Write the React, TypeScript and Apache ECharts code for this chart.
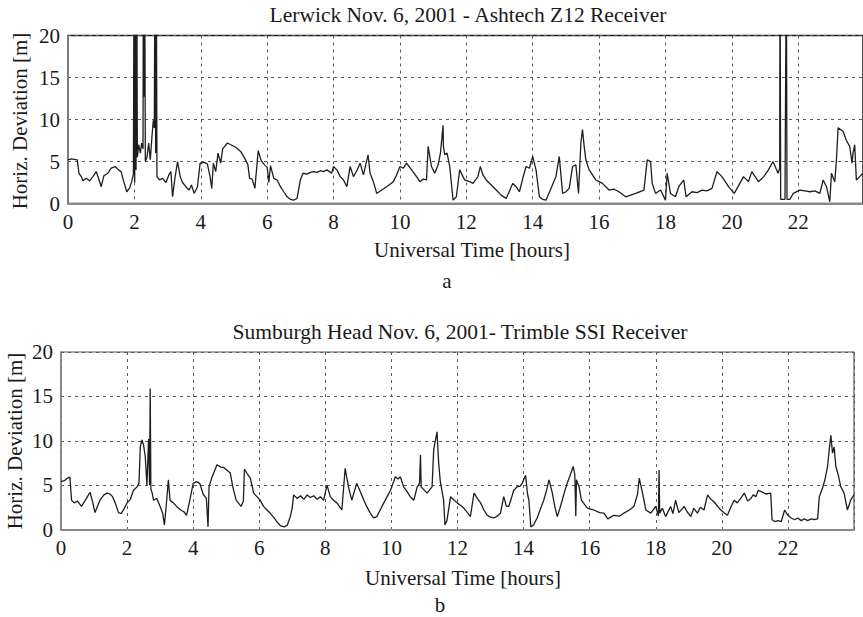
import React, { useEffect, useRef } from "react";
import * as echarts from "echarts";

// Lerwick, Ashtech Z12 receiver: [UT hours, horizontal deviation m]
const lerwick: [number, number][] = [
  [0, 5.2], [0.1, 5.3], [0.28, 5.2], [0.33, 3.6], [0.4, 3.2], [0.45, 2.7], [0.55, 3.0], [0.65, 2.7],
  [0.75, 3.2], [0.85, 3.8], [0.92, 3.0], [1.0, 2.0], [1.08, 3.3], [1.2, 3.6], [1.3, 4.2], [1.42, 4.4],
  [1.52, 4.0], [1.6, 3.8], [1.68, 2.6], [1.77, 1.4], [1.85, 1.8], [1.92, 2.6], [1.97, 3.5], [1.99, 30],
  [2.01, 2.5], [2.03, 30], [2.05, 4.0], [2.07, 30], [2.09, 5.5], [2.13, 7.0], [2.18, 6.0], [2.22, 7.2],
  [2.26, 6.5], [2.27, 30], [2.29, 12.7], [2.31, 30], [2.33, 5.0], [2.38, 5.5], [2.43, 7.2], [2.48, 5.2],
  [2.53, 8.0], [2.57, 9.9], [2.6, 9.0], [2.62, 30], [2.64, 6.0], [2.66, 30], [2.68, 3.2], [2.75, 2.8],
  [2.85, 3.0], [2.95, 2.5], [3.05, 3.5], [3.1, 3.8], [3.15, 0.8], [3.22, 3.0], [3.3, 5.0], [3.38, 3.2],
  [3.45, 2.5], [3.55, 2.0], [3.65, 1.6], [3.72, 2.2], [3.8, 1.2], [3.9, 2.0], [3.98, 4.8], [4.1, 4.9],
  [4.2, 4.7], [4.28, 3.2], [4.33, 1.8], [4.38, 4.8], [4.45, 3.8], [4.52, 6.0], [4.6, 4.8], [4.66, 6.5],
  [4.8, 7.2], [4.95, 6.9], [5.05, 6.7], [5.2, 6.2], [5.35, 5.2], [5.42, 4.6], [5.47, 3.0], [5.55, 2.9],
  [5.63, 1.8], [5.73, 6.3], [5.82, 5.1], [5.92, 4.6], [6.0, 4.3], [6.05, 2.5], [6.1, 4.5], [6.2, 3.0],
  [6.3, 2.8], [6.4, 2.0], [6.5, 1.4], [6.6, 0.8], [6.7, 0.5], [6.8, 0.4], [6.9, 0.6], [7.0, 2.8],
  [7.08, 3.6], [7.2, 3.5], [7.3, 3.7], [7.4, 3.8], [7.5, 3.7], [7.6, 3.9], [7.7, 3.8], [7.8, 4.0],
  [7.94, 3.6], [8.0, 4.4], [8.1, 4.0], [8.2, 3.2], [8.3, 2.8], [8.4, 2.0], [8.5, 4.4], [8.6, 3.2],
  [8.7, 3.9], [8.8, 4.8], [8.9, 3.4], [9.04, 5.8], [9.1, 3.6], [9.2, 2.6], [9.3, 1.2], [9.45, 1.6],
  [9.6, 2.0], [9.7, 2.3], [9.8, 2.6], [9.9, 3.4], [10.0, 4.4], [10.1, 4.2], [10.2, 4.8], [10.35, 4.0],
  [10.5, 3.2], [10.6, 2.6], [10.7, 2.9], [10.8, 2.8], [10.85, 6.8], [10.95, 4.4], [11.05, 3.6], [11.15, 4.6],
  [11.22, 6.0], [11.3, 9.3], [11.31, 6.8], [11.35, 5.8], [11.42, 6.0], [11.5, 4.4], [11.6, 0.4], [11.7, 0.8],
  [11.8, 4.0], [11.9, 3.2], [11.95, 2.8], [12.1, 2.6], [12.2, 2.4], [12.35, 3.2], [12.42, 4.4], [12.5, 3.4],
  [12.6, 2.8], [12.75, 2.2], [12.9, 1.6], [13.05, 1.0], [13.2, 0.6], [13.3, 1.5], [13.4, 2.4], [13.5, 2.0],
  [13.6, 1.4], [13.7, 3.0], [13.8, 4.4], [13.9, 4.2], [14.0, 5.6], [14.1, 4.0], [14.2, 0.8], [14.3, 0.5],
  [14.4, 0.4], [14.55, 1.8], [14.7, 3.2], [14.8, 5.6], [14.9, 1.2], [15.0, 1.4], [15.1, 1.8], [15.2, 4.4],
  [15.3, 4.6], [15.38, 1.2], [15.45, 7.2], [15.5, 8.8], [15.55, 6.8], [15.6, 5.2], [15.7, 4.0], [15.9, 2.8],
  [16.1, 2.4], [16.3, 1.6], [16.45, 1.7], [16.6, 1.4], [16.8, 0.8], [16.95, 1.0], [17.1, 1.2], [17.35, 1.6],
  [17.45, 5.2], [17.55, 5.0], [17.6, 2.4], [17.7, 1.2], [17.85, 1.6], [18.0, 0.4], [18.05, 3.6], [18.15, 1.2],
  [18.3, 0.8], [18.4, 2.0], [18.55, 2.8], [18.62, 0.8], [18.8, 1.4], [18.95, 1.3], [19.1, 1.6], [19.25, 1.5],
  [19.4, 1.8], [19.55, 3.8], [19.7, 3.2], [19.9, 2.0], [20.07, 1.2], [20.27, 2.6], [20.35, 3.2], [20.5, 2.6],
  [20.6, 3.8], [20.8, 2.6], [20.96, 3.2], [21.1, 4.0], [21.24, 5.0], [21.39, 3.6], [21.44, 4.2], [21.45, 30],
  [21.47, 0.5], [21.6, 0.5], [21.64, 30], [21.66, 0.5], [21.75, 0.5], [21.85, 1.2], [22.05, 1.6], [22.2, 1.5],
  [22.35, 1.4], [22.5, 1.5], [22.65, 1.2], [22.75, 2.8], [22.85, 2.0], [22.95, 0.2], [23.0, 3.6], [23.1, 2.6],
  [23.15, 5.2], [23.2, 9.0], [23.35, 8.6], [23.45, 7.5], [23.55, 6.8], [23.62, 4.8], [23.65, 6.0], [23.7, 7.0],
  [23.75, 2.8], [23.85, 3.2], [23.95, 3.6],
];

// Sumburgh Head, Trimble SSI receiver: [UT hours, horizontal deviation m]
const sumburgh: [number, number][] = [
  [0, 5.4], [0.1, 5.5], [0.2, 5.8], [0.27, 5.9], [0.32, 3.3], [0.4, 3.0], [0.5, 3.2], [0.62, 2.6],
  [0.72, 3.2], [0.8, 3.7], [0.88, 4.2], [0.95, 3.2], [1.03, 1.9], [1.1, 2.6], [1.18, 3.3], [1.3, 3.9],
  [1.39, 4.1], [1.48, 4.0], [1.56, 3.7], [1.64, 3.0], [1.74, 1.9], [1.82, 1.8], [1.89, 2.2], [2.0, 3.0],
  [2.1, 3.4], [2.19, 4.4], [2.3, 4.8], [2.36, 5.2], [2.4, 9.3], [2.45, 10.1], [2.5, 9.5], [2.55, 8.2],
  [2.6, 5.0], [2.65, 10.2], [2.68, 5.0], [2.7, 15.9], [2.72, 4.6], [2.76, 4.1], [2.8, 3.3], [2.9, 3.5],
  [3.0, 2.6], [3.08, 1.8], [3.13, 0.5], [3.18, 2.5], [3.25, 5.6], [3.3, 3.3], [3.4, 3.0], [3.5, 2.6],
  [3.62, 2.2], [3.72, 2.0], [3.8, 1.6], [3.9, 3.3], [4.0, 5.2], [4.1, 5.4], [4.2, 5.2], [4.3, 4.0],
  [4.4, 3.5], [4.45, 0.3], [4.48, 4.8], [4.57, 5.9], [4.72, 7.3], [4.85, 7.0], [4.92, 7.0], [5.05, 6.6],
  [5.12, 6.4], [5.2, 4.8], [5.3, 3.3], [5.45, 2.6], [5.52, 3.2], [5.55, 6.8], [5.65, 6.2], [5.73, 5.8],
  [5.83, 4.1], [5.93, 3.7], [6.03, 3.3], [6.13, 2.6], [6.23, 2.2], [6.33, 1.85], [6.45, 1.3], [6.55, 0.8],
  [6.65, 0.4], [6.75, 0.3], [6.85, 0.5], [6.94, 1.45], [7.0, 2.5], [7.04, 3.9], [7.15, 3.5], [7.25, 3.8],
  [7.35, 3.4], [7.45, 3.9], [7.55, 3.6], [7.65, 3.8], [7.75, 3.4], [7.85, 3.7], [7.95, 3.3], [8.05, 5.0],
  [8.15, 3.7], [8.25, 3.3], [8.35, 3.0], [8.5, 2.2], [8.6, 6.9], [8.7, 4.8], [8.8, 3.3], [8.95, 5.2],
  [9.1, 3.9], [9.25, 2.6], [9.36, 1.85], [9.46, 1.3], [9.56, 1.45], [9.66, 2.2], [9.77, 3.0], [9.87, 3.7],
  [9.97, 4.4], [10.12, 5.95], [10.2, 5.7], [10.27, 5.95], [10.37, 4.8], [10.47, 4.3], [10.57, 3.7], [10.68, 3.3],
  [10.78, 4.8], [10.85, 5.2], [10.88, 8.4], [10.9, 4.8], [11.08, 4.1], [11.23, 4.8], [11.28, 9.0], [11.38, 11.0],
  [11.43, 7.5], [11.48, 5.4], [11.58, 3.3], [11.62, 0.5], [11.68, 1.0], [11.79, 3.7], [11.9, 3.3], [11.99, 3.0],
  [12.1, 2.7], [12.19, 2.4], [12.3, 1.9], [12.39, 1.45], [12.5, 4.1], [12.6, 3.5], [12.7, 3.0], [12.8, 2.2],
  [12.9, 1.6], [13.0, 1.4], [13.1, 1.3], [13.2, 1.5], [13.3, 1.85], [13.4, 3.7], [13.48, 2.6], [13.55, 2.6],
  [13.62, 3.4], [13.7, 4.4], [13.8, 4.8], [13.9, 4.9], [13.96, 5.2], [14.06, 6.1], [14.12, 4.0], [14.16, 3.3],
  [14.22, 0.3], [14.3, 0.5], [14.41, 1.3], [14.51, 2.3], [14.61, 3.3], [14.7, 4.5], [14.77, 5.6], [14.87, 4.1],
  [14.95, 2.5], [15.02, 1.45], [15.1, 2.4], [15.17, 3.3], [15.25, 4.4], [15.32, 5.2], [15.4, 6.0], [15.5, 7.1],
  [15.55, 6.2], [15.58, 1.5], [15.6, 5.6], [15.68, 4.8], [15.75, 3.3], [15.85, 2.8], [15.93, 2.4], [16.03, 2.3],
  [16.13, 2.2], [16.3, 1.9], [16.43, 1.85], [16.55, 1.2], [16.73, 1.6], [16.9, 1.5], [17.04, 1.85], [17.2, 2.2],
  [17.34, 2.6], [17.45, 4.0], [17.5, 5.8], [17.6, 4.1], [17.7, 2.2], [17.85, 1.85], [18.0, 2.6], [18.08, 1.5],
  [18.1, 6.7], [18.12, 1.85], [18.2, 2.4], [18.3, 1.45], [18.45, 2.6], [18.52, 1.8], [18.6, 3.3], [18.7, 1.9],
  [18.86, 2.6], [18.95, 2.0], [19.06, 1.45], [19.15, 2.4], [19.26, 1.85], [19.35, 2.5], [19.46, 2.2], [19.57, 3.9],
  [19.67, 3.4], [19.77, 3.1], [19.87, 2.6], [19.97, 2.2], [20.07, 1.9], [20.17, 1.6], [20.27, 2.5], [20.37, 3.3],
  [20.47, 3.0], [20.57, 3.5], [20.68, 4.1], [20.78, 3.2], [20.88, 3.5], [20.95, 3.9], [21.03, 3.7], [21.1, 4.4],
  [21.18, 4.3], [21.33, 4.0], [21.48, 4.1], [21.52, 1.1], [21.6, 0.9], [21.7, 1.0], [21.8, 0.9], [21.9, 2.2],
  [22.0, 1.6], [22.1, 1.3], [22.2, 1.1], [22.3, 1.3], [22.4, 1.0], [22.5, 1.2], [22.6, 1.0], [22.7, 1.2],
  [22.8, 1.1], [22.9, 1.2], [22.95, 3.7], [23.05, 4.7], [23.12, 5.6], [23.2, 7.1], [23.25, 9.0], [23.3, 10.6],
  [23.35, 8.6], [23.4, 9.3], [23.45, 7.1], [23.52, 6.2], [23.6, 4.8], [23.7, 4.1], [23.8, 2.2], [23.9, 3.3],
  [24.0, 3.9],
];

const titleTop = "Lerwick Nov. 6, 2001 - Ashtech Z12 Receiver";
const titleBottom = "Sumburgh Head Nov. 6, 2001- Trimble SSI Receiver";
const xName = "Universal Time [hours]";
const yName = "Horiz. Deviation [m]";

const FONT = "Liberation Serif";
const TXT = "#1a1a1a";

export default function App() {
  const ref = useRef<HTMLDivElement>(null);

  useEffect(() => {
    const chart = echarts.init(ref.current as HTMLDivElement, null, { renderer: "svg" });
    const gridLine = { show: true, lineStyle: { color: "#5a5a5a", type: [3, 4] as number[], width: 1 } };
    const label = { color: TXT, fontFamily: FONT, fontSize: 21 };

    const mkX = (gi: number, max: number) => ({
      type: "value" as const,
      gridIndex: gi,
      min: 0,
      max,
      interval: 2,
      axisLine: { show: true, onZero: false, lineStyle: { color: "#8a8a8a", width: 2 } },
      axisTick: { show: false },
      axisLabel: { ...label, margin: 8, showMaxLabel: false },
      splitLine: gridLine,
    });
    const mkY = (gi: number) => ({
      type: "value" as const,
      gridIndex: gi,
      min: 0,
      max: 20,
      interval: 5,
      axisLine: { show: true, lineStyle: { color: "#8a8a8a", width: 1.5 } },
      axisTick: { show: false },
      axisLabel: { ...label, margin: 8 },
      splitLine: gridLine,
    });
    const txt = (text: string, x: number, y: number, rot = 0, size = 21) => ({
      type: "text" as const,
      x,
      y,
      rotation: rot,
      style: {
        text,
        fill: TXT,
        fontFamily: FONT,
        fontSize: size,
        align: "center",
        verticalAlign: "middle",
      },
    });

    chart.setOption({
      animation: false,
      backgroundColor: "#ffffff",
      grid: [
        { left: 68, right: 0, top: 35.5, bottom: 413.5, show: true, borderColor: "#1a1a1a", borderWidth: 1.5 },
        { left: 61, right: 9, top: 352, bottom: 87.5, show: true, borderColor: "#555", borderWidth: 1.2 },
      ],
      xAxis: [mkX(0, 23.95), mkX(1, 24)],
      yAxis: [mkY(0), mkY(1)],
      series: [
        {
          type: "line",
          xAxisIndex: 0,
          yAxisIndex: 0,
          data: lerwick,
          showSymbol: false,
          symbol: "none",
          clip: true,
          lineStyle: { color: "#1e1e1e", width: 1.3 },
        },
        {
          type: "line",
          xAxisIndex: 1,
          yAxisIndex: 1,
          data: sumburgh,
          showSymbol: false,
          symbol: "none",
          clip: true,
          lineStyle: { color: "#1e1e1e", width: 1.3 },
        },
      ],
      graphic: [
        txt(titleTop, 468, 15, 0, 21.5),
        txt(titleBottom, 460, 332, 0, 21.5),
        txt(xName, 472, 250),
        txt(xName, 463, 578),
        txt("a", 447, 281),
        txt("b", 440, 605),
        txt(yName, 20, 121, Math.PI / 2),
        txt(yName, 15, 441, Math.PI / 2),
      ],
    });

    return () => chart.dispose();
  }, []);

  return (
    <div
      ref={ref}
      style={{ position: "fixed", left: 0, top: 0, width: 863, height: 617, background: "#fff" }}
    />
  );
}
